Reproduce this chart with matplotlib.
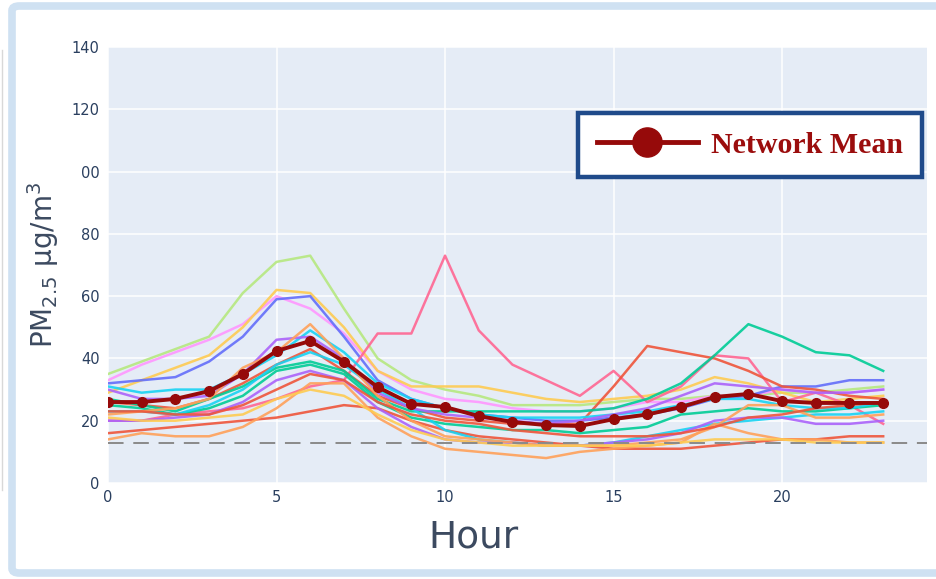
import numpy as np
import matplotlib
matplotlib.use("Agg")
import matplotlib.pyplot as plt
from matplotlib.lines import Line2D
from matplotlib.patches import FancyBboxPatch

# hourly PM2.5 profiles (µg/m3)
hours = list(range(24))
stations = [
    ("#B6E880", [35, 39, 43, 47, 61, 71, 73, 56, 40, 33, 30, 28, 25, 25, 25, 26, 27, 27, 28, 28, 29, 29, 30, 31]),
    ("#FF97FF", [33, 38, 42, 46, 51, 60, 56, 48, 36, 30, 27, 26, 24, 23, 23, 24, 26, 26, 28, 28, 30, 29, 29, 30]),
    ("#FECB52", [29, 33, 37, 41, 50, 62, 61, 50, 36, 31, 31, 31, 29, 27, 26, 27, 28, 30, 34, 32, 29, 26, 27, 28]),
    ("#636EFA", [32, 33, 34, 39, 47, 59, 60, 47, 33, 27, 24, 22, 21, 20, 20, 21, 22, 24, 27, 28, 31, 31, 33, 33]),
    ("#FF6692", [20, 20, 22, 23, 24, 27, 31, 33, 48, 48, 73, 49, 38, 33, 28, 36, 26, 31, 41, 40, 26, 29, 25, 19]),
    ("#EF553B", [16, 17, 18, 19, 20, 21, 23, 25, 24, 20, 17, 15, 14, 13, 12, 11, 11, 11, 12, 13, 14, 14, 15, 15]),
    ("#EF553B", [26, 25, 24, 27, 32, 38, 43, 36, 28, 24, 21, 20, 19, 19, 19, 31, 44, 42, 40, 36, 31, 30, 28, 27]),
    ("#00CC96", [27, 25, 23, 27, 31, 37, 39, 36, 27, 23, 23, 23, 23, 23, 23, 24, 27, 32, 41, 51, 47, 42, 41, 36]),
    ("#00CC96", [25, 24, 22, 24, 28, 36, 38, 35, 26, 21, 19, 18, 17, 17, 16, 17, 18, 22, 23, 24, 23, 23, 24, 25]),
    ("#19D3F3", [31, 29, 30, 30, 35, 41, 49, 42, 32, 27, 24, 22, 21, 21, 21, 22, 23, 25, 27, 27, 25, 24, 24, 26]),
    ("#19D3F3", [23, 23, 22, 25, 30, 38, 42, 38, 30, 24, 17, 14, 13, 12, 12, 13, 15, 17, 19, 20, 21, 22, 22, 23]),
    ("#AB63FA", [30, 27, 27, 28, 35, 46, 47, 40, 29, 24, 22, 21, 20, 19, 20, 22, 24, 28, 32, 31, 30, 29, 29, 30]),
    ("#AB63FA", [20, 20, 21, 22, 26, 33, 36, 33, 24, 18, 14, 13, 13, 12, 12, 13, 14, 16, 20, 21, 21, 19, 19, 20]),
    ("#FFA15A", [22, 23, 24, 27, 37, 42, 51, 40, 28, 20, 15, 14, 13, 12, 12, 12, 13, 14, 18, 25, 25, 21, 21, 22]),
    ("#FFA15A", [14, 16, 15, 15, 18, 24, 32, 32, 21, 15, 11, 10, 9, 8, 10, 11, 12, 13, 19, 16, 14, 14, 13, 13]),
    ("#FECB52", [21, 20, 20, 21, 22, 27, 30, 28, 22, 17, 14, 13, 12, 12, 12, 12, 12, 13, 14, 14, 14, 13, 13, 13]),
    ("#EF553B", [23, 23, 22, 22, 25, 30, 35, 33, 26, 22, 20, 19, 17, 16, 15, 15, 15, 16, 18, 21, 22, 24, 25, 26]),
]
network_mean = [26, 26, 27, 29.5, 35, 42.4, 45.6, 39, 30.8, 25.4, 24.4, 21.5, 19.6, 18.6, 18.3,
                20.5, 22, 24.4, 27.6, 28.6, 26.3, 25.7, 25.7, 25.7]
reference_level = 13
y_ticks = [0, 20, 40, 60, 80, 100, 120, 140]
y_tick_labels = ["0", "20", "40", "60", "80", "00", "120", "140"]
x_ticks = [0, 5, 10, 15, 20]

TXT = "#2a3f5f"
MEAN = "#960a0a"

fig = plt.figure(figsize=(9.36, 5.79), dpi=100)

# screenshot frame
fig.add_artist(FancyBboxPatch((12/936, 6/579), 1.2, 567/579, transform=fig.transFigure,
                              boxstyle="round,pad=0,rounding_size=0.008",
                              fc="white", ec="#cfe1f2", lw=5.5, zorder=0))
fig.add_artist(Line2D([2/936, 2/936], [1 - 490/579, 1 - 50/579], transform=fig.transFigure,
                      color="#d8d8d8", lw=1))

ax = fig.add_axes([108/936, 1 - 483/579, 819/936, 436/579], facecolor="#E5ECF6")
for s in ax.spines.values():
    s.set_visible(False)
ax.grid(color="white", lw=1.1)
ax.set_axisbelow(True)

for col, vals in stations:
    ax.plot(hours, vals, color=col, lw=1.8, alpha=0.9)
ax.axhline(reference_level, color="#8a8a8a", lw=1.4, ls=(0, (8, 5)))
ax.plot(hours, network_mean, color=MEAN, lw=2.8, marker="o", ms=7)

ax.set_xlim(0, 24.3)
ax.set_ylim(0, 140)
ax.set_xticks(x_ticks)
ax.set_yticks(y_ticks)
ax.set_yticklabels(y_tick_labels)
ax.tick_params(length=0, labelsize=10.5, labelcolor=TXT)
ax.tick_params(axis="x", pad=5)
ax.tick_params(axis="y", pad=6)

ax.set_ylabel(r"PM$_{2.5}$ µg/m$^3$", fontsize=20, color="#3c4a60", labelpad=8)
fig.text(474/936, 1 - 538/579, "Hour", fontsize=27, color="#3c4a60", ha="center", va="center")

handle = Line2D([], [], color=MEAN, lw=3.5, marker="o", ms=21)
leg = ax.legend([handle], ["Network Mean"], loc="upper right",
                bbox_to_anchor=((922 - 108)/819, (483 - 113)/436),
                prop={"family": "Liberation Serif", "weight": "bold", "size": 21.5},
                handlelength=3.4, handletextpad=0.45, borderpad=0.62, borderaxespad=0,
                fancybox=False, framealpha=1)
leg.get_frame().set_edgecolor("#1f4a8a")
leg.get_frame().set_linewidth(3.2)
for t in leg.get_texts():
    t.set_color("#9b0d0d")

fig.savefig("out.png", dpi=100)
